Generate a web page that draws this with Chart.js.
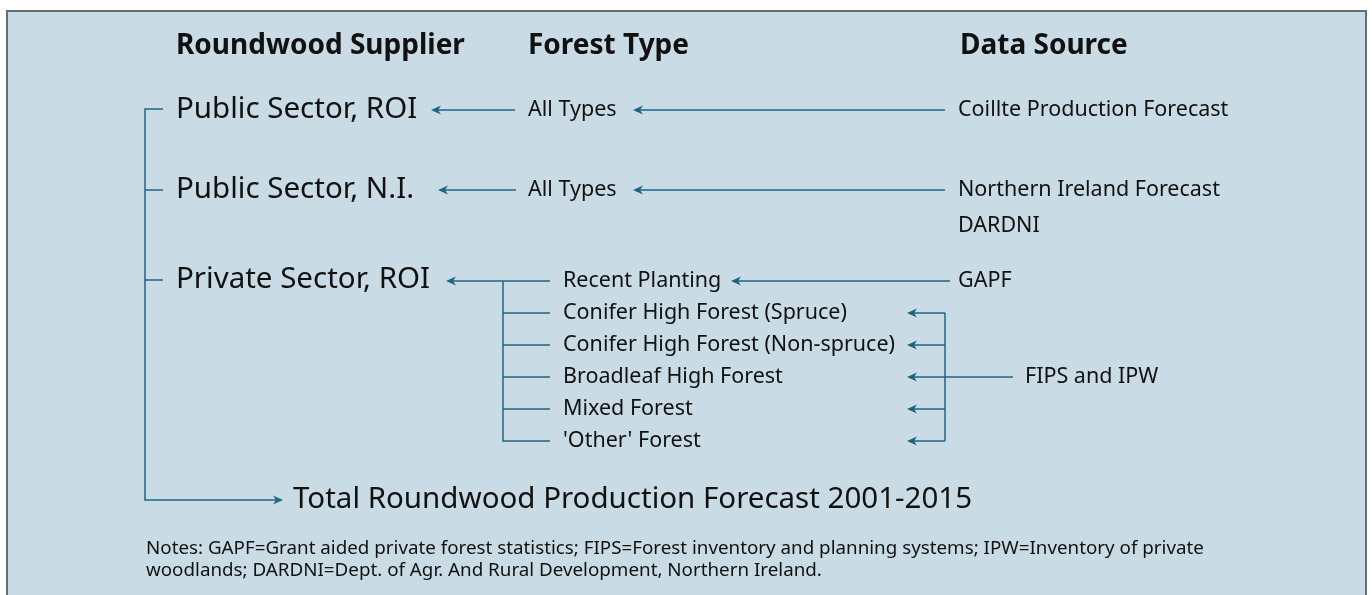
<!DOCTYPE html>
<html>
<head>
<meta charset="utf-8">
<script src="https://cdn.jsdelivr.net/npm/chart.js@4"></script>
<style>
  html, body { margin: 0; padding: 0; background: #ffffff; }
  #wrap { width: 1372px; height: 595px; position: relative; }
</style>
</head>
<body>
<div id="wrap"><canvas id="c"></canvas></div>
<script>
// ---------- DATA (text content of the diagram) ----------
const headers = ['Roundwood Supplier', 'Forest Type', 'Data Source'];
const suppliers = ['Public Sector, ROI', 'Public Sector, N.I.', 'Private Sector, ROI'];
const publicForestTypes = ['All Types', 'All Types'];
const publicSources = [['Coillte Production Forecast'], ['Northern Ireland Forecast', 'DARDNI']];
const privateForestTypes = ['Recent Planting', 'Conifer High Forest (Spruce)', 'Conifer High Forest (Non-spruce)',
  'Broadleaf High Forest', 'Mixed Forest', "'Other' Forest"];
const privateSources = ['GAPF', 'FIPS and IPW'];
const totalLabel = 'Total Roundwood Production Forecast 2001-2015';
const notes = [
  'Notes: GAPF=Grant aided private forest statistics; FIPS=Forest inventory and planning systems; IPW=Inventory of private',
  'woodlands; DARDNI=Dept. of Agr. And Rural Development, Northern Ireland.'
];

// ---------- LAYOUT (diagram positions, in canvas units) ----------
const L = {
  headerX: [176, 528, 960], headerY: 46,
  supplierX: 176, supplierY: [110, 190, 280],
  supplierArrowTip: [431, 438, 446],
  typeX: 528, typeLineStart: [515, 516],
  typeArrowTip: [633, 633],
  sourceX: 958, sourceLineStart: 945, sourceLineGap: 36,
  bracketX: 145, bracketTickEnd: 163, bracketBottom: 500, totalArrowTip: 283, totalX: 293,
  privTypeX: 563, privRowY: [281, 313, 345, 377, 409, 441], privVertX: 503, privBranchEnd: 550,
  recentArrowTip: 731, recentLineStart: 950,
  fipsVertX: 945, fipsArrowTip: 907, fipsLineStart: 1013, fipsX: 1025,
  notesX: 146, notesY: [549, 571]
};

const LINE = '#1d6585';
const TEXT = '#111111';
const FONT = '"Noto Sans", "Open Sans", sans-serif';

// ---------- build connector segments ----------
const segments = [];   // each: {pts:[[x,y],...], arrow: 'left'|'right'|null}
segments.push({ pts: [[L.bracketTickEnd, L.supplierY[0] - 1], [L.bracketX, L.supplierY[0] - 1], [L.bracketX, L.bracketBottom], [L.totalArrowTip - 2, L.bracketBottom]], arrow: 'right' });
for (let i = 1; i < suppliers.length; i++) {
  segments.push({ pts: [[L.bracketX, L.supplierY[i]], [L.bracketTickEnd, L.supplierY[i]]], arrow: null });
}
for (let i = 0; i < publicForestTypes.length; i++) {
  const y = L.supplierY[i];
  segments.push({ pts: [[L.typeLineStart[i], y], [L.supplierArrowTip[i] + 2, y]], arrow: 'left' });
  segments.push({ pts: [[L.sourceLineStart, y], [L.typeArrowTip[i] + 2, y]], arrow: 'left' });
}
// private sector
const py = L.privRowY;
segments.push({ pts: [[L.privBranchEnd, py[0]], [L.supplierArrowTip[2] + 2, py[0]]], arrow: 'left' });
segments.push({ pts: [[L.privVertX, py[0]], [L.privVertX, py[py.length - 1]], [L.privBranchEnd, py[py.length - 1]]], arrow: null });
for (let i = 1; i < py.length - 1; i++) {
  segments.push({ pts: [[L.privVertX, py[i]], [L.privBranchEnd, py[i]]], arrow: null });
}
segments.push({ pts: [[L.recentLineStart, py[0]], [L.recentArrowTip + 2, py[0]]], arrow: 'left' });
segments.push({ pts: [[L.fipsVertX, py[1]], [L.fipsVertX, py[py.length - 1]]], arrow: null });
for (let i = 1; i < py.length; i++) {
  segments.push({ pts: [[L.fipsVertX, py[i]], [L.fipsArrowTip + 2, py[i]]], arrow: 'left' });
}
segments.push({ pts: [[L.fipsLineStart, py[3]], [L.fipsVertX, py[3]]], arrow: null });

const datasets = segments.map(s => ({
  data: s.pts.map(p => ({ x: p[0], y: p[1] })),
  showLine: true, borderColor: LINE, borderWidth: 1.5, pointRadius: 0,
  fill: false, tension: 0, arrow: s.arrow
}));

// ---------- texts ----------
const BODY = '21.5px ' + FONT;
const texts = [];
headers.forEach((h, i) => texts.push({ t: h, x: L.headerX[i], y: L.headerY, font: 'bold 28px ' + FONT }));
suppliers.forEach((s, i) => texts.push({ t: s, x: L.supplierX, y: L.supplierY[i], font: '29.5px ' + FONT }));
publicForestTypes.forEach((t, i) => texts.push({ t, x: L.typeX, y: L.supplierY[i], font: BODY }));
publicSources.forEach((lines, i) => lines.forEach((t, j) =>
  texts.push({ t, x: L.sourceX, y: L.supplierY[i] + j * L.sourceLineGap, font: BODY })));
privateForestTypes.forEach((t, i) => texts.push({ t, x: L.privTypeX, y: py[i], font: BODY }));
texts.push({ t: privateSources[0], x: L.sourceX, y: py[0], font: BODY });
texts.push({ t: privateSources[1], x: L.fipsX, y: py[3], font: BODY });
texts.push({ t: totalLabel, x: L.totalX, y: L.bracketBottom, font: '29.5px ' + FONT });
notes.forEach((t, i) => texts.push({ t, x: L.notesX, y: L.notesY[i], font: '18.8px ' + FONT }));

const diagramPlugin = {
  id: 'diagram',
  beforeDraw(chart) {
    const ctx = chart.ctx;
    ctx.save();
    ctx.fillStyle = '#ffffff';
    ctx.fillRect(0, 0, chart.width, chart.height);
    ctx.fillStyle = '#c9dce5';
    ctx.fillRect(6, 10, 1360, 600);
    ctx.strokeStyle = '#676d72';
    ctx.lineWidth = 2;
    ctx.strokeRect(7, 11, 1359, 600);
    ctx.restore();
  },
  afterDatasetsDraw(chart) {
    const ctx = chart.ctx, xs = chart.scales.x, ys = chart.scales.y;
    ctx.save();
    // arrowheads
    ctx.fillStyle = LINE;
    chart.data.datasets.forEach(ds => {
      if (!ds.arrow) return;
      const p = ds.data[ds.data.length - 1];
      const dir = ds.arrow === 'right' ? 1 : -1;
      const tx = xs.getPixelForValue(p.x) + dir * 2, ty = ys.getPixelForValue(p.y);
      ctx.beginPath();
      ctx.moveTo(tx, ty);
      ctx.lineTo(tx - dir * 10, ty - 4.5);
      ctx.lineTo(tx - dir * 7, ty);
      ctx.lineTo(tx - dir * 10, ty + 4.5);
      ctx.closePath();
      ctx.fill();
    });
    // texts
    ctx.fillStyle = TEXT;
    ctx.textBaseline = 'middle';
    ctx.textAlign = 'left';
    texts.forEach(o => {
      ctx.font = o.font;
      ctx.fillText(o.t, xs.getPixelForValue(o.x), ys.getPixelForValue(o.y));
    });
    ctx.restore();
  }
};

new Chart(document.getElementById('c'), {
  type: 'scatter',
  data: { datasets },
  options: {
    responsive: true, maintainAspectRatio: false, animation: false, events: [],
    layout: { padding: 0 },
    plugins: { legend: { display: false }, tooltip: { enabled: false } },
    scales: {
      x: { type: 'linear', min: 0, max: 1372, display: false },
      y: { type: 'linear', min: 0, max: 595, reverse: true, display: false }
    }
  },
  plugins: [diagramPlugin]
});
</script>
</body>
</html>
